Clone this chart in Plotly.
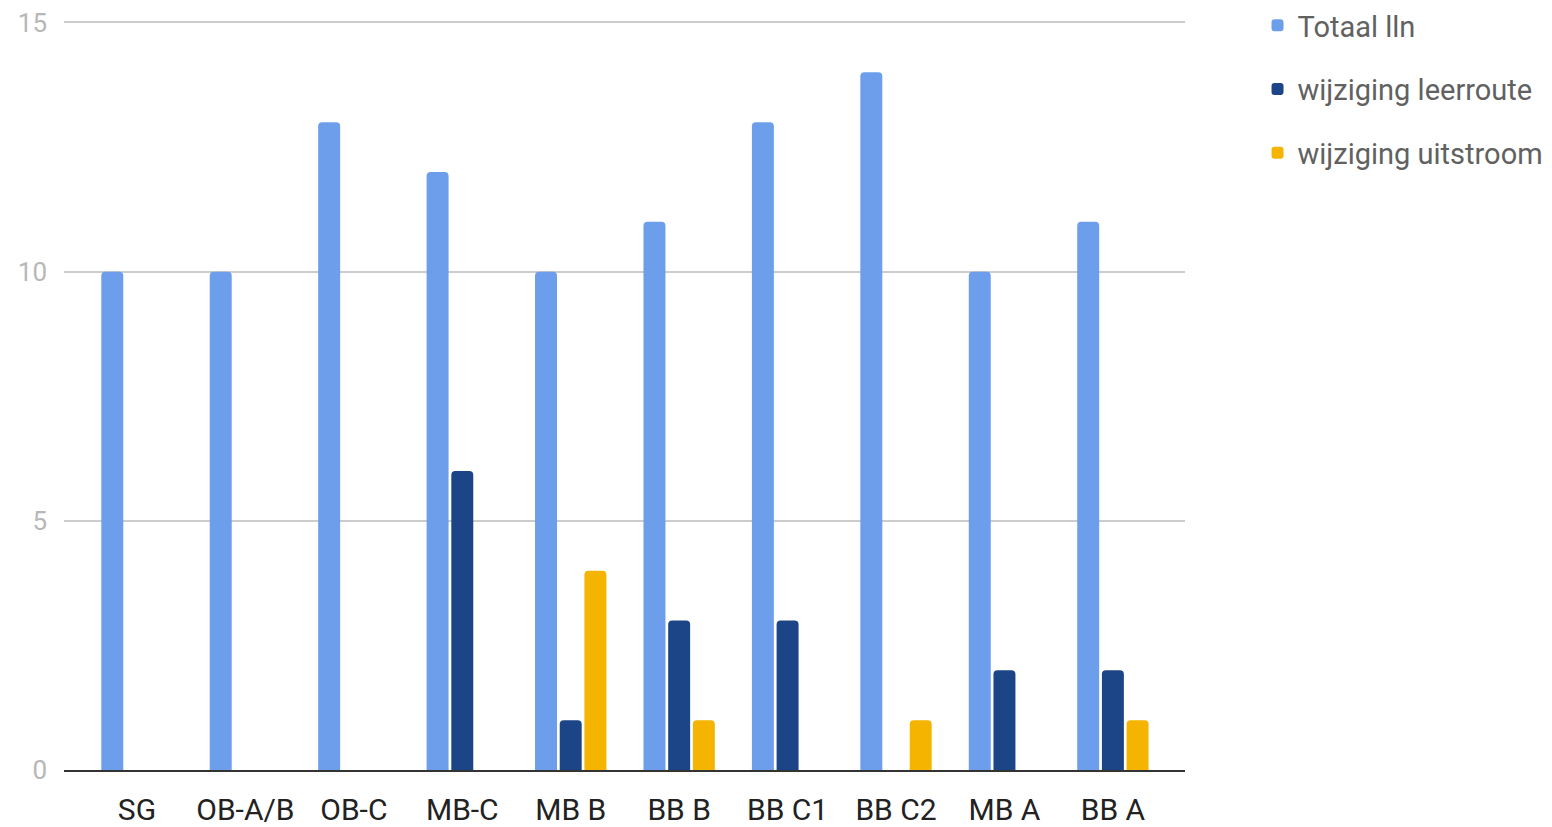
import plotly.graph_objects as go

categories = ["SG", "OB-A/B", "OB-C", "MB-C", "MB B", "BB B", "BB C1", "BB C2", "MB A", "BB A"]
totaal_lln = [10, 10, 13, 12, 10, 11, 13, 14, 10, 11]
wijziging_leerroute = [0, 0, 0, 6, 1, 3, 3, 0, 2, 2]
wijziging_uitstroom = [0, 0, 0, 0, 4, 1, 0, 1, 0, 1]
y_ticks = [0, 5, 10, 15]

series = [
    ("Totaal lln", totaal_lln, "#6d9eeb"),
    ("wijziging leerroute", wijziging_leerroute, "#1c4587"),
    ("wijziging uitstroom", wijziging_uitstroom, "#f4b400"),
]

fig = go.Figure()
for i, (name, vals, color) in enumerate(series):
    fig.add_trace(go.Bar(
        x=categories, y=vals, name=name,
        marker=dict(color=color, line=dict(width=0)),
        legendgroup=f"g{i}",
    ))

fig.update_layout(
    width=1552, height=827,
    barmode="group",
    bargap=0.317,
    bargroupgap=0.11,
    barcornerradius=4,
    plot_bgcolor="white",
    paper_bgcolor="white",
    margin=dict(l=56, r=375, t=12, b=65, autoexpand=False),
    font=dict(family="Roboto", size=30, color="#222222"),
    legend=dict(
        x=1.0647, xanchor="left",
        y=1.0268, yanchor="top",
        font=dict(size=29, color="#616161"),
        tracegroupgap=23,
        bgcolor="rgba(0,0,0,0)",
    ),
    xaxis=dict(
        range=[-0.673, 9.665],
        showgrid=False,
        showline=True, linecolor="#333333", linewidth=2,
        ticks="", ticklabelstandoff=12,
        tickfont=dict(size=30, color="#222222"),
        automargin=False,
    ),
    yaxis=dict(
        range=[0, 15.05],
        tickvals=y_ticks,
        showgrid=True, gridcolor="#cccccc", gridwidth=2,
        zeroline=False,
        showline=False,
        ticks="", ticklabelstandoff=16,
        ticklabeloverflow="allow",
        tickfont=dict(size=26, color="#b7b7b7"),
        automargin=False,
    ),
)

fig.write_html("out.html")
